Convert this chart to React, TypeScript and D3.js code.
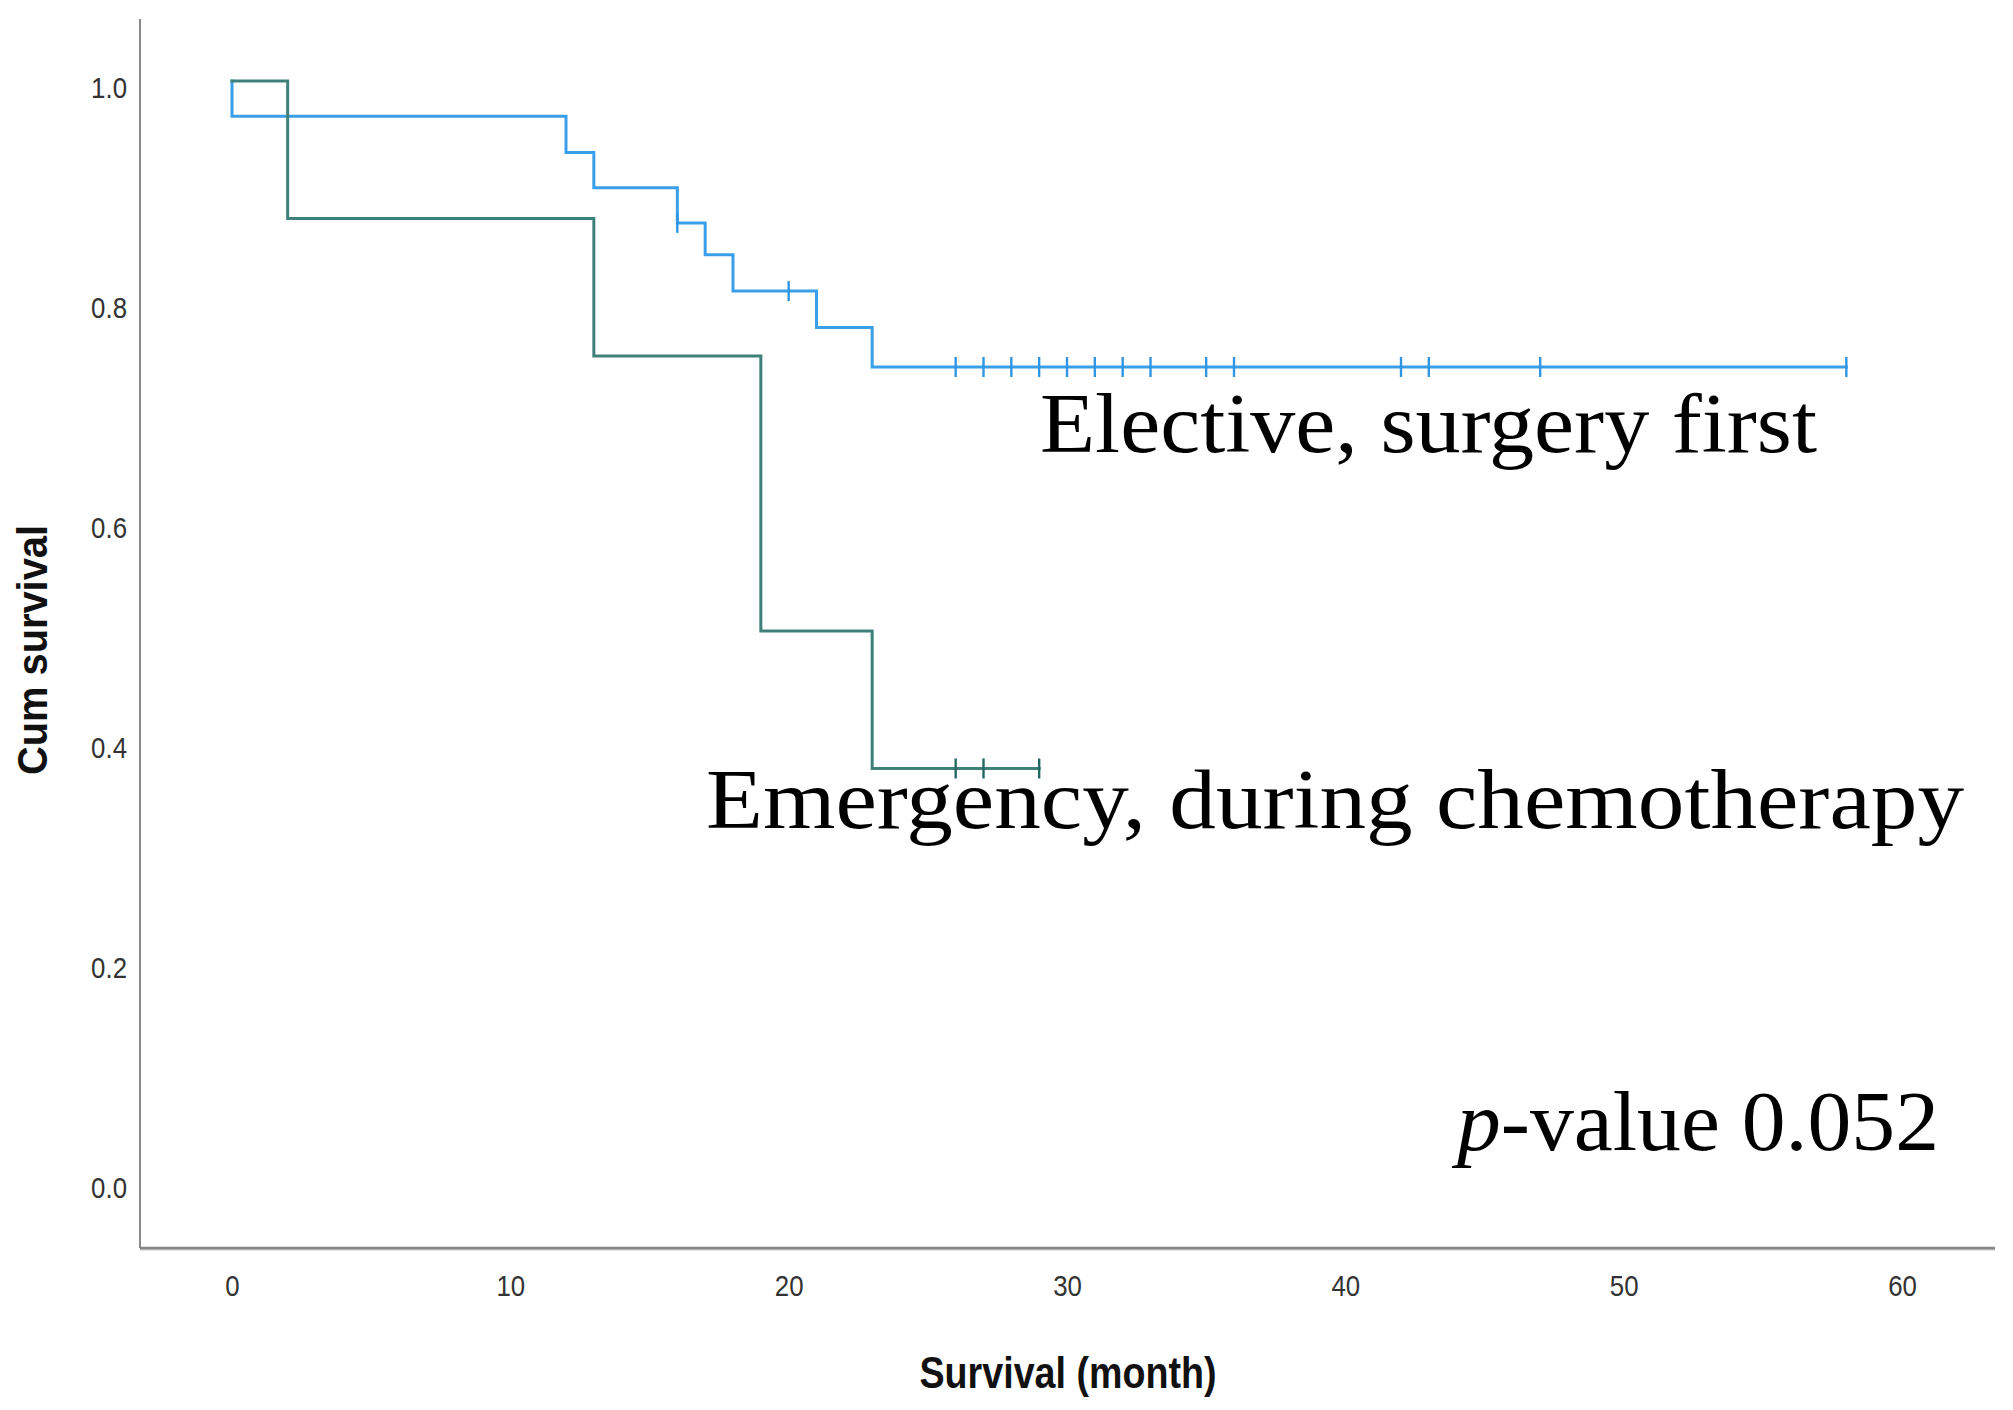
import { useEffect, useRef } from "react"
import * as d3 from "d3"

// Kaplan-Meier steps
const electiveTimes = [0, 0, 12, 13, 16, 17, 18, 21, 23]
const electiveSurv = [1.0, 0.968, 0.935, 0.903, 0.871, 0.842, 0.809, 0.776, 0.74]
const electiveCensored = [16, 20, 26, 27, 28, 29, 30, 31, 32, 33, 35, 36, 42, 43, 47, 58]

const emergencyTimes = [0, 2, 13, 19, 23]
const emergencySurv = [1.0, 0.875, 0.75, 0.5, 0.375]
const emergencyCensored = [26, 27, 29]

const xTicks = [0, 10, 20, 30, 40, 50, 60]
const yTicks = [0, 0.2, 0.4, 0.6, 0.8, 1.0]

const W = 2013
const H = 1410

interface Pt {
  t: number
  s: number
}

function survAt(times: number[], surv: number[], t: number) {
  let s = surv[0]
  times.forEach((tt, i) => {
    if (tt <= t) s = surv[i]
  })
  return s
}

export default function App() {
  const svgRef = useRef<SVGSVGElement>(null)

  useEffect(() => {
    if (!svgRef.current) return
    const svg = d3.select(svgRef.current)
    svg.selectAll("*").remove()

    const x = d3.scaleLinear().domain([0, 60]).range([232, 1902])
    const y = d3.scaleLinear().domain([0, 1]).range([1181, 81])

    const axisX0 = 140
    const axisX1 = 1995
    const axisY0 = 19
    const axisY1 = 1248

    svg.append("rect").attr("width", W).attr("height", H).attr("fill", "#fff")

    // axis lines
    svg
      .append("line")
      .attr("x1", axisX0)
      .attr("x2", axisX0)
      .attr("y1", axisY0)
      .attr("y2", axisY1)
      .attr("stroke", "#8a8a8a")
      .attr("stroke-width", 2)
    svg
      .append("line")
      .attr("x1", axisX0)
      .attr("x2", axisX1)
      .attr("y1", axisY1 + 1.5)
      .attr("y2", axisY1 + 1.5)
      .attr("stroke", "#c4c4c4")
      .attr("stroke-width", 2)
    svg
      .append("line")
      .attr("x1", axisX0)
      .attr("x2", axisX1)
      .attr("y1", axisY1)
      .attr("y2", axisY1)
      .attr("stroke", "#858585")
      .attr("stroke-width", 2.5)

    const condense = function (this: SVGTextElement) {
      const len = this.getComputedTextLength()
      d3.select(this).attr("textLength", len * 0.86).attr("lengthAdjust", "spacingAndGlyphs")
    }

    // y ticks
    const gy = svg
      .append("g")
      .attr("transform", `translate(${axisX0},0)`)
      .call(d3.axisLeft(y).tickValues(yTicks).tickSize(0).tickPadding(13).tickFormat(d3.format(".1f")))
    gy.select(".domain").remove()
    gy.selectAll("text")
      .attr("font-family", "'Liberation Sans', Arial, sans-serif")
      .attr("font-size", 30)
      .attr("fill", "#333")
      .attr("dy", "0.55em")
      .each(condense)

    // x ticks
    const gx = svg
      .append("g")
      .attr("transform", `translate(0,${axisY1})`)
      .call(d3.axisBottom(x).tickValues(xTicks).tickSize(0).tickPadding(27).tickFormat(d3.format("d")))
    gx.select(".domain").remove()
    gx.selectAll("text")
      .attr("font-family", "'Liberation Sans', Arial, sans-serif")
      .attr("font-size", 30)
      .attr("fill", "#333")
      .each(condense)

    // axis titles
    svg
      .append("text")
      .attr("x", 1068)
      .attr("y", 1388)
      .attr("text-anchor", "middle")
      .attr("font-family", "'Liberation Sans', Arial, sans-serif")
      .attr("font-weight", "bold")
      .attr("font-size", 44)
      .attr("fill", "#111")
      .attr("textLength", 297)
      .attr("lengthAdjust", "spacingAndGlyphs")
      .text("Survival (month)")
    svg
      .append("text")
      .attr("transform", "translate(47,650) rotate(-90)")
      .attr("text-anchor", "middle")
      .attr("font-family", "'Liberation Sans', Arial, sans-serif")
      .attr("font-weight", "bold")
      .attr("font-size", 43)
      .attr("fill", "#111")
      .attr("textLength", 250)
      .attr("lengthAdjust", "spacingAndGlyphs")
      .text("Cum survival")

    const line = d3
      .line<Pt>()
      .x((d) => x(d.t))
      .y((d) => y(d.s))
      .curve(d3.curveStepAfter)

    const series = [
      {
        times: electiveTimes,
        surv: electiveSurv,
        censored: electiveCensored,
        color: "#3a9fe8",
        mark: "#2f96e3",
      },
      {
        times: emergencyTimes,
        surv: emergencySurv,
        censored: emergencyCensored,
        color: "#3f807a",
        mark: "#226862",
      },
    ]

    series.forEach((sr) => {
      const pts: Pt[] = sr.times.map((t, i) => ({ t, s: sr.surv[i] }))
      const end = d3.max(sr.censored)!
      pts.push({ t: end, s: sr.surv[sr.surv.length - 1] })
      svg
        .append("path")
        .attr("d", line(pts))
        .attr("fill", "none")
        .attr("stroke", sr.color)
        .attr("stroke-width", 3)
        .attr("stroke-linecap", "square")

      svg
        .append("g")
        .selectAll("line")
        .data(sr.censored)
        .enter()
        .append("line")
        .attr("x1", (d) => x(d))
        .attr("x2", (d) => x(d))
        .attr("y1", (d) => y(survAt(sr.times, sr.surv, d)) - 10)
        .attr("y2", (d) => y(survAt(sr.times, sr.surv, d)) + 10)
        .attr("stroke", sr.mark)
        .attr("stroke-width", 2.4)
    })

    // annotations
    const serif = "'Liberation Serif', 'DejaVu Serif', serif"
    svg
      .append("text")
      .attr("x", 1040)
      .attr("y", 452)
      .attr("font-family", serif)
      .attr("font-size", 84)
      .attr("fill", "#000")
      .attr("textLength", 777)
      .attr("lengthAdjust", "spacingAndGlyphs")
      .text("Elective, surgery first")
    svg
      .append("text")
      .attr("x", 706)
      .attr("y", 828)
      .attr("font-family", serif)
      .attr("font-size", 84)
      .attr("fill", "#000")
      .attr("textLength", 1258)
      .attr("lengthAdjust", "spacingAndGlyphs")
      .text("Emergency, during chemotherapy")
    const pv = svg
      .append("text")
      .attr("x", 1457)
      .attr("y", 1150)
      .attr("font-family", serif)
      .attr("font-size", 84)
      .attr("fill", "#000")
      .attr("textLength", 482)
      .attr("lengthAdjust", "spacingAndGlyphs")
    pv.append("tspan").attr("font-style", "italic").text("p")
    pv.append("tspan").text("-value 0.052")
  }, [])

  return (
    <svg
      ref={svgRef}
      width={W}
      height={H}
      style={{ position: "absolute", left: 0, top: 0, display: "block" }}
    />
  )
}
